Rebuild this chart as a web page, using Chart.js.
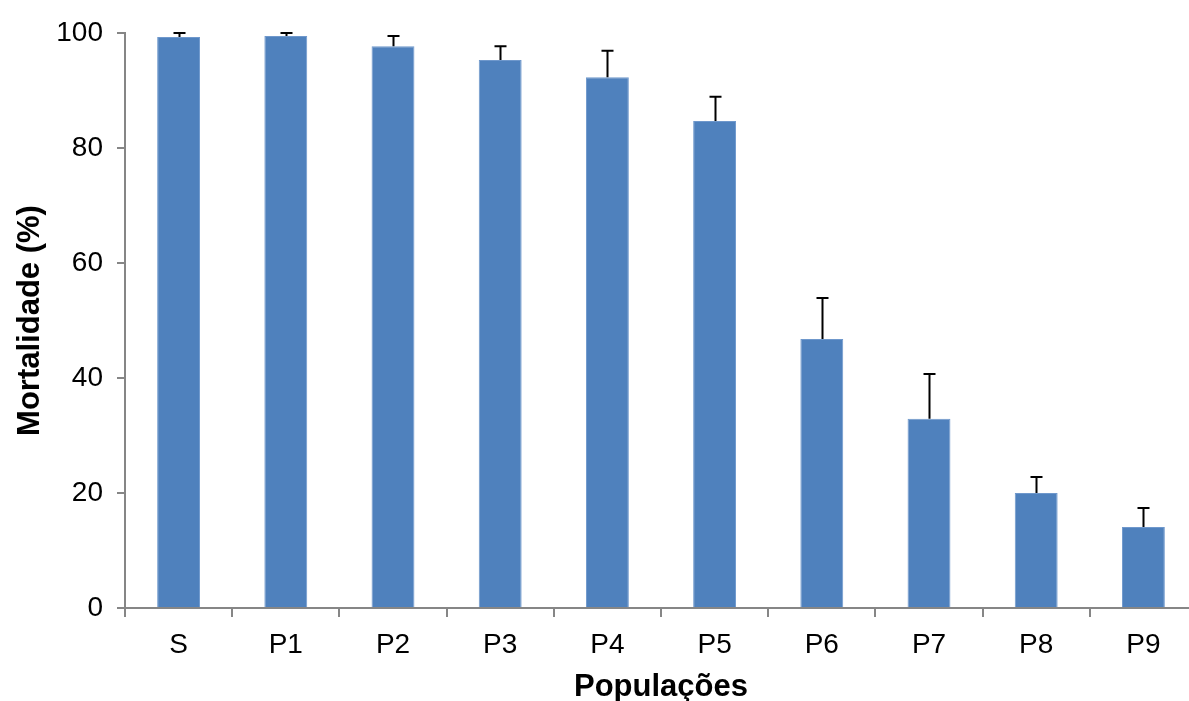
<!DOCTYPE html>
<html>
<head>
<meta charset="utf-8">
<script src="https://cdn.jsdelivr.net/npm/chart.js@4.4.1/dist/chart.umd.min.js"></script>
<style>
  html, body { margin: 0; padding: 0; background: #fff; overflow: hidden; }
  #wrap { width: 1200px; height: 701px; }
</style>
</head>
<body>
<div id="wrap"><canvas id="chart"></canvas></div>
<script>
// Data
const categories = ['S', 'P1', 'P2', 'P3', 'P4', 'P5', 'P6', 'P7', 'P8', 'P9'];
const mortality = [99.3, 99.5, 97.7, 95.3, 92.3, 84.7, 46.8, 32.9, 20.0, 14.1];
const errors = [0.7, 0.5, 1.8, 2.4, 4.6, 4.2, 7.1, 7.8, 2.8, 3.3];
const yTicks = [0, 20, 40, 60, 80, 100];

const FONT = '"Liberation Sans", Arial, sans-serif';
const AXIS_GREY = '#868686';

// Upper error bars drawn through the chart's scales
const errorBars = {
    id: 'errorBars',
    afterDatasetsDraw(chart) {
        const ctx = chart.ctx;
        const y = chart.scales.y;
        const meta = chart.getDatasetMeta(0);
        ctx.save();
        ctx.strokeStyle = '#000';
        ctx.lineWidth = 2;
        meta.data.forEach((bar, i) => {
            const top = y.getPixelForValue(mortality[i] + errors[i]);
            const x = Math.round(bar.x) + 0.5;
            ctx.beginPath();
            ctx.moveTo(x, bar.y);
            ctx.lineTo(x, top);
            ctx.moveTo(x - 6, top);
            ctx.lineTo(x + 6, top);
            ctx.stroke();
        });
        ctx.restore();
    }
};

const chart = new Chart(document.getElementById('chart'), {
    type: 'bar',
    data: {
        labels: categories,
        datasets: [{
            data: mortality,
            backgroundColor: '#4F81BD',
            borderColor: '#6F98CC',
            borderWidth: 1,
            categoryPercentage: 1,
            barPercentage: 0.4
        }]
    },
    options: {
        responsive: true,
        maintainAspectRatio: false,
        animation: false,
        layout: { padding: { top: 33, right: 3, left: 0, bottom: 0 } },
        plugins: {
            legend: { display: false },
            tooltip: { enabled: false }
        },
        scales: {
            x: {
                grid: {
                    offset: true,
                    drawOnChartArea: false,
                    color: AXIS_GREY,
                    tickLength: 9,
                    lineWidth: 2
                },
                border: { color: AXIS_GREY, width: 2 },
                ticks: {
                    color: '#000',
                    padding: 11,
                    font: { family: FONT, size: 28 }
                },
                title: {
                    display: true,
                    text: 'Populações',
                    color: '#000',
                    padding: { top: 0, bottom: 0 },
                    font: { family: FONT, size: 31, weight: 'bold', lineHeight: 0.9 }
                },
                afterFit(scale) { scale.height = 93; }
            },
            y: {
                min: 0,
                max: 100,
                afterBuildTicks(scale) {
                    scale.ticks = yTicks.map(v => ({ value: v }));
                },
                grid: {
                    drawOnChartArea: false,
                    color: AXIS_GREY,
                    tickLength: 8,
                    lineWidth: 2
                },
                border: { color: AXIS_GREY, width: 2 },
                ticks: {
                    color: '#000',
                    padding: 14,
                    font: { family: FONT, size: 28 }
                },
                title: {
                    display: true,
                    text: 'Mortalidade (%)',
                    color: '#000',
                    padding: { top: 12, bottom: 0 },
                    font: { family: FONT, size: 31, weight: 'bold' }
                },
                afterFit(scale) { scale.width = 125; }
            }
        }
    },
    plugins: [errorBars]
});
</script>
</body>
</html>
